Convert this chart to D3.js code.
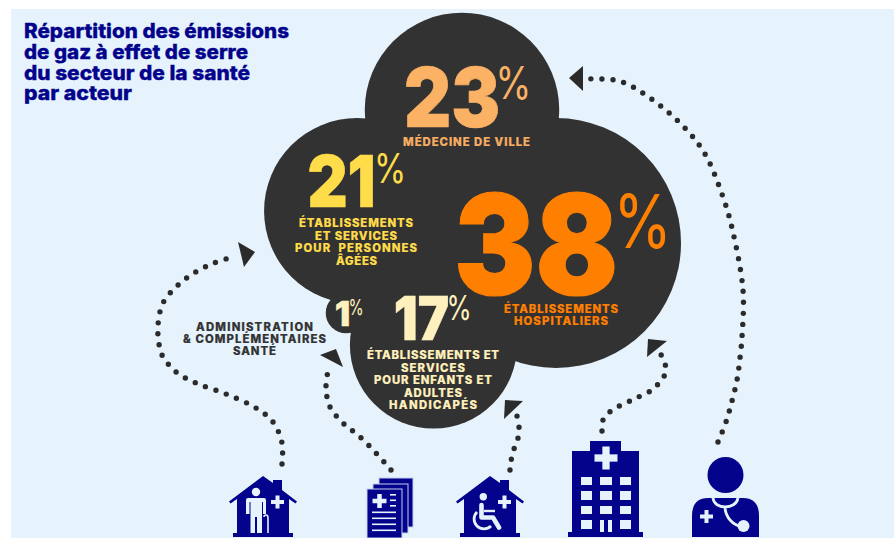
<!DOCTYPE html>
<html lang="fr">
<head>
<meta charset="utf-8">
<title>Répartition des émissions de gaz à effet de serre du secteur de la santé</title>
<script src="https://cdn.jsdelivr.net/npm/d3@7"></script>
<style>
  html, body { margin: 0; padding: 0; background: #fff; overflow: hidden; }
  svg { display: block; }
  text { font-family: Inter, "Open Sans", sans-serif; }
</style>
</head>
<body>
<svg id="chart" width="894" height="538"></svg>
<script>
// Data
const actors = ["hospitals", "doctors", "elderly", "disabled", "admin"];
const shares = [38, 23, 21, 17, 1];
const labels = [
  ["ÉTABLISSEMENTS", "HOSPITALIERS"],
  ["MÉDECINE DE VILLE"],
  ["ÉTABLISSEMENTS", "ET SERVICES", "POUR  PERSONNES", "ÂGÉES"],
  ["ÉTABLISSEMENTS ET", "SERVICES", "POUR ENFANTS ET", "ADULTES", "HANDICAPÉS"],
  ["ADMINISTRATION", "& COMPLÉMENTAIRES", "SANTÉ"]
];
const titleLines = [
  "Répartition des émissions",
  "de gaz à effet de serre",
  "du secteur de la santé",
  "par acteur"
];

// Layout
const NAVY = "#03038c", DARK = "#323232", PALE = "#e6f3fd";
const actorColors = ["#ff8000", "#fbb264", "#ffdd4a", "#fff1bd", "#fff1bd"];
const labelColors = ["#ff8000", "#f6ae63", "#ffdd4a", "#fff1bd", "#333333"];
const centers = [[556, 243], [462, 110], [357, 211], [433.5, 345], [346, 313]];
// number box: left, right, baseline, digit height; percent box: left, right, baseline, height
const numberBoxes = [
  [459, 613, 295, 102, 619, 666, 248, 56],
  [407, 497, 127, 60, 499, 528, 99, 34],
  [310, 373, 207, 52, 377, 403, 183, 31],
  [396, 447, 340, 44, 449, 469, 320, 26],
  [336, 349, 326, 25, 350, 362, 315, 16]
];
// label line boxes: left, right, baseline
const labelBoxes = [
  [[504, 618, 313], [514, 608, 325]],
  [[403, 530, 146]],
  [[299, 413, 227], [315, 397, 240], [295, 417, 252], [336, 377, 265]],
  [[367, 499, 359], [401, 465, 372], [374, 492, 384], [404, 462, 397], [389, 477, 409]],
  [[196, 313, 331], [183, 326, 343], [233, 276, 355]]
];
const titleBoxes = [[24, 289, 38], [24, 248, 59], [24, 250, 80], [24, 132, 100]];

// Dotted routes from each icon to its share, with their arrowheads
const routes = [
  { pts: [[602,431],[603,420],[611,411],[632,400],[652,390],[659,383],[665,374],[665,363],[660,353]],
    head: [[648,339],[667,341],[647,357]] },
  { pts: [[718,442],[726,422],[732,401],[737,380],[740,358],[742,337],[743,290],[732,228],[723,197],[705,154],[684,127],[650,98],[619,81],[586,79]],
    head: [[583,66],[569,78],[583,91]] },
  { pts: [[282,464],[282,443],[273,422],[256,408],[226,394],[196,383],[176,372],[162,355],[159,344],[158,325],[163,303],[177,286],[194,273],[214,263],[236,256]],
    head: [[238,242],[255,252],[244,267]] },
  { pts: [[510,470],[511,461],[514,449],[518,438],[519,427],[517,416]],
    head: [[505,400],[523,401],[504,419]] },
  { pts: [[391,470],[376,453],[359,436],[343,423],[330,407],[326,387],[329,366]],
    head: [[320,355],[336,349],[343,367]] }
];

const svg = d3.select("#chart");
svg.append("rect").attr("x", 11).attr("y", 9).attr("width", 883).attr("height", 529).attr("fill", PALE);

// Area of each bubble is proportional to its share
const radius = d3.scaleSqrt().domain([0, d3.max(shares)]).range([0, 125]);

svg.append("g").selectAll("circle").data(shares).join("circle")
  .attr("cx", (d, i) => centers[i][0])
  .attr("cy", (d, i) => centers[i][1])
  .attr("r", d => radius(d))
  .attr("fill", DARK);

// Draws one line of text fitted to a known horizontal extent
function fitted(parent, str, x0, x1, y, size, weight, fill, adjust, fatten) {
  return parent.append("text")
    .attr("x", x0).attr("y", y)
    .attr("textLength", x1 - x0).attr("lengthAdjust", adjust)
    .attr("font-size", size).attr("font-weight", weight).attr("fill", fill)
    .attr("stroke", fatten ? fill : "none").attr("stroke-width", fatten || 0)
    .style("white-space", "pre")
    .text(str);
}

const CAP = 0.727;
const gNum = svg.append("g");
shares.forEach((v, i) => {
  const b = numberBoxes[i];
  const padN = b[3] * 0.05, padP = b[7] * 0.1;
  fitted(gNum, String(v), b[0] - padN, b[1] + padN, b[2], b[3] / CAP, 900, actorColors[i], "spacingAndGlyphs", b[3] * 0.012);
  fitted(gNum, "%", b[4] - padP, b[5] + padP, b[6], b[7] / 0.76, 400, actorColors[i], "spacingAndGlyphs");
});

const gLab = svg.append("g");
labels.forEach((lines, i) => {
  lines.forEach((line, j) => {
    const b = labelBoxes[i][j];
    fitted(gLab, line, b[0], b[1], b[2], 11.3, 800, labelColors[i], "spacing", 0.2);
  });
});

titleLines.forEach((line, i) => {
  const b = titleBoxes[i];
  fitted(svg, line, b[0], b[1], b[2], 19.6, 800, NAVY, "spacingAndGlyphs", 0.35);
});

// Routes
const routeLine = d3.line().curve(d3.curveCatmullRom.alpha(0.5));
const gRoutes = svg.append("g");
routes.forEach(r => {
  gRoutes.append("path")
    .attr("d", routeLine(r.pts))
    .attr("fill", "none").attr("stroke", "#2b2b2b")
    .attr("stroke-width", 5.4).attr("stroke-linecap", "round")
    .attr("stroke-dasharray", "0 11");
  gRoutes.append("path")
    .attr("d", d3.line()(r.head) + "Z")
    .attr("fill", "#2b2b2b");
});

// Icons
const icons = svg.append("g");

function plus(g, cx, cy, size, thick, fill) {
  g.append("rect").attr("x", cx - size / 2).attr("y", cy - thick / 2).attr("width", size).attr("height", thick).attr("fill", fill);
  g.append("rect").attr("x", cx - thick / 2).attr("y", cy - size / 2).attr("width", thick).attr("height", size).attr("fill", fill);
}

function house(dx) {
  const g = icons.append("g").attr("transform", `translate(${dx},0)`);
  g.append("path").attr("fill", NAVY)
    .attr("d", "M263 476L273 483V480H282V490L297 501.5L295.5 503.5L289 499V533H293V537H233V533H237V499L230.500 503.5L229 501.5Z");
  plus(g, 277.5, 502, 13, 4, PALE);
  return g;
}

// Elderly resident's home
const h1 = house(0);
h1.append("circle").attr("cx", 256).attr("cy", 492).attr("r", 4.2).attr("fill", PALE);
h1.append("path").attr("fill", PALE)
  .attr("d", "M248 498H264Q266 498 266 500V514H263V502H262V533H257V517H255V533H250.500V502H249.500V514H246V500Q246 498 248 498Z");
h1.append("path").attr("fill", "none").attr("stroke", PALE).attr("stroke-width", 1.6)
  .attr("d", "M264 517Q264 515 266 515Q268 515 268 518V533");

// Care records
const docs = icons.append("g");
[[379, 478, 34, 49], [373, 484, 35, 49], [367, 489, 35, 49]].forEach(p => {
  docs.append("rect").attr("x", p[0]).attr("y", p[1]).attr("width", p[2]).attr("height", p[3])
    .attr("fill", NAVY).attr("stroke", "#c2cdf0").attr("stroke-width", 1);
});
plus(docs, 379.500, 501, 14, 4.500, PALE);
d3.range(3).forEach(i => docs.append("rect").attr("x", 390).attr("y", 494 + i * 5.5).attr("width", 6).attr("height", 1.6).attr("fill", PALE));
d3.range(4).forEach(i => docs.append("rect").attr("x", 372).attr("y", 511.500 + i * 6).attr("width", 24).attr("height", 1.6).attr("fill", PALE));

// Disability care home
const h2 = house(227);
const wc = h2.append("g").attr("transform", "translate(-227,0)");
wc.append("circle").attr("cx", 483.300).attr("cy", 496.700).attr("r", 3.700).attr("fill", PALE);
wc.append("path").attr("fill", "none").attr("stroke", PALE).attr("stroke-width", 4.600)
  .attr("stroke-linejoin", "round").attr("stroke-linecap", "round")
  .attr("d", "M481.500 505V517.500H493L499 527.500");
wc.append("path").attr("fill", "none").attr("stroke", PALE).attr("stroke-width", 2.400)
  .attr("d", "M484 511H495");
wc.append("path").attr("fill", "none").attr("stroke", PALE).attr("stroke-width", 2.800)
  .attr("d", "M477 512A9.500 9.500 0 1 0 491 526");

// Hospital
const hosp = icons.append("g");
hosp.append("path").attr("fill", NAVY).attr("d", "M590 441H621V451H639V532H643V537H568V532H572V451H590Z");
plus(hosp, 606, 458, 23, 7.300, PALE);
[[477, 8], [491, 9], [506, 8], [520, 9]].forEach((row, r) => {
  [[581, 11], [600, 12], [620, 11]].forEach((col, c) => {
    if (r === 3 && c === 1) return;
    hosp.append("rect").attr("x", col[0]).attr("y", row[0]).attr("width", col[1]).attr("height", row[1]).attr("fill", PALE);
  });
});
[600, 608].forEach(x => hosp.append("rect").attr("x", x).attr("y", 520).attr("width", 4).attr("height", 12).attr("fill", PALE));

// Doctor
const doc = icons.append("g");
doc.append("circle").attr("cx", 725.500).attr("cy", 475).attr("r", 18).attr("fill", NAVY);
doc.append("path").attr("fill", NAVY).attr("d", "M708 498H743Q759 498 759 516V537H692V516Q692 498 708 498Z");
plus(doc, 706.500, 516.500, 13, 4, PALE);
doc.append("path").attr("fill", "none").attr("stroke", PALE).attr("stroke-width", 2.800)
  .attr("d", "M713 498C714 510 736 510 738 498M725 508C726 518 733 525 742 527");
doc.append("circle").attr("cx", 743.500).attr("cy", 526).attr("r", 6).attr("fill", PALE);
</script>
</body>
</html>
